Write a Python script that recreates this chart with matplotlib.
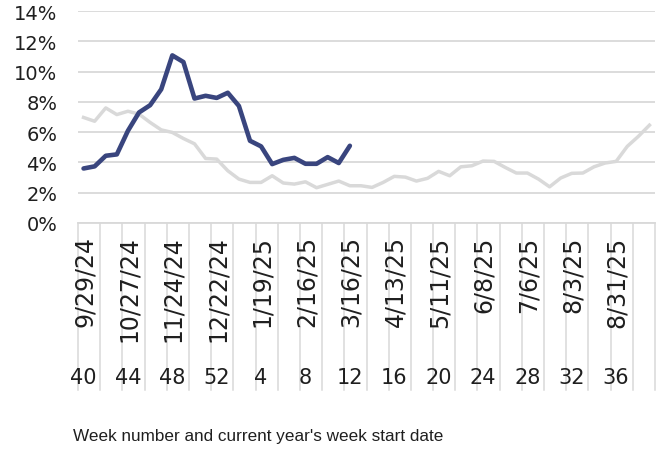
import matplotlib
matplotlib.use("Agg")
import matplotlib.pyplot as plt
import matplotlib.transforms as mtransforms
import numpy as np

plt.rcParams['font.family'] = ['DejaVu Sans']

# week numbers on the x axis (season starts at week 40)
weeks = list(range(40, 53)) + list(range(1, 40))

# percent positive, current season (2024-25) and previous season
current = [3.6, 3.74, 4.44, 4.53, 6.09, 7.3, 7.78, 8.83, 11.07, 10.63, 8.22, 8.4, 8.26,
           8.6, 7.73, 5.43, 5.06, 3.89, 4.17, 4.3, 3.91, 3.91, 4.35, 3.96, 5.1]
previous = [6.97, 6.72, 7.6, 7.16, 7.38, 7.19, 6.64, 6.15, 5.98, 5.58, 5.23, 4.26, 4.22,
            3.45, 2.9, 2.68, 2.68, 3.12, 2.64, 2.57, 2.72, 2.33, 2.55, 2.77, 2.46, 2.46,
            2.35, 2.68, 3.08, 3.03, 2.77, 2.95, 3.41, 3.12, 3.71, 3.78, 4.09, 4.07, 3.67,
            3.3, 3.3, 2.9, 2.39, 2.97, 3.28, 3.3, 3.71, 3.96, 4.07, 5.06, 5.72, 6.46]

# labelled weeks every 4 weeks
date_labels = ['9/29/24', '10/27/24', '11/24/24', '12/22/24', '1/19/25', '2/16/25', '3/16/25',
               '4/13/25', '5/11/25', '6/8/25', '7/6/25', '8/3/25', '8/31/25']

W, H = 662, 456
fig = plt.figure(figsize=(W / 100, H / 100), dpi=100)
ax = fig.add_axes([78 / W, 1 - 224 / H, (655 - 78) / W, (224 - 12) / H])

x = np.arange(len(weeks))
grid_c = '#D9D9D9'
txt_c = '#1f1f1f'

ax.plot(x, np.array(previous) / 100, color=grid_c, lw=2.5, solid_joinstyle='round', zorder=3)
ax.plot(x[:len(current)], np.array(current) / 100, color='#39457E', lw=3.3,
        solid_joinstyle='round', solid_capstyle='round', zorder=4)

ax.set_xlim(-0.5, len(weeks) - 0.5)
ax.set_ylim(0, 0.14)
yt = np.arange(0, 0.141, 0.02)
ax.set_yticks(yt)
ax.set_yticklabels([f'{int(round(v * 100))}%' for v in yt])
ax.yaxis.grid(True, color=grid_c, lw=1.3)
ax.set_axisbelow(True)
for s in ax.spines.values():
    s.set_visible(False)
ax.tick_params(axis='y', length=0, labelsize=14, pad=15, labelcolor=txt_c)
ax.set_xticks([])

# category axis: separators every 2 weeks, dates and week numbers every 4 weeks
trans = mtransforms.blended_transform_factory(ax.transData, ax.transAxes)
ax.plot([-0.5, len(weeks) - 0.5], [0, 0], color=grid_c, lw=1.3, transform=trans, clip_on=False)
for b in np.arange(-0.5, len(weeks), 2):
    ax.plot([b, b], [0, -0.79], color=grid_c, lw=1.1, transform=trans, clip_on=False)

lab_idx = list(range(0, len(weeks), 4))
for i, d in zip(lab_idx, date_labels):
    ax.text(i + 0.1, -0.058, d, rotation=90, ha='center', va='top', fontsize=17,
            transform=trans, color=txt_c)
    ax.text(i, -0.725, str(weeks[i]), ha='center', va='center', fontsize=15,
            transform=trans, color=txt_c)

fig.text(73 / W, 1 - 437 / H, "Week number and current year's week start date",
         ha='left', va='center', fontsize=12.3, color=txt_c, family='Liberation Sans')

fig.savefig('out.png', dpi=100)
